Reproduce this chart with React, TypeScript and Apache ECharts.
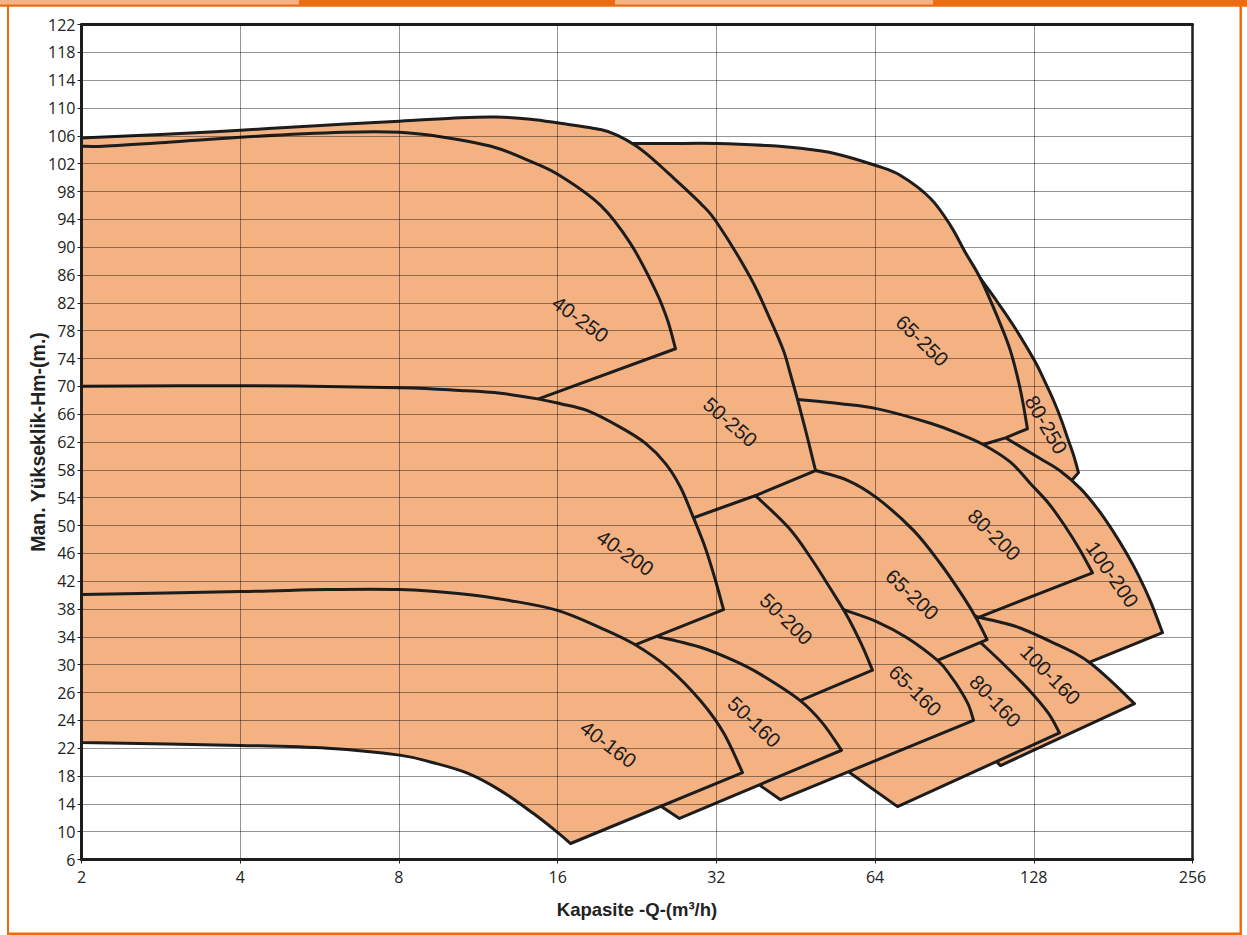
import React, { useEffect, useRef } from 'react';
import * as echarts from 'echarts';

// Axis tick labels (the printed head scale is not uniform at the bottom)
const Y_TICK_LABELS = [6, 10, 14, 18, 22, 24, 26, 30, 34, 38, 42, 46, 50, 54, 58, 62, 66, 70, 74, 78, 82, 86, 90, 94, 98, 102, 106, 110, 114, 118, 122];
const X_MIN = 2;
const X_MAX = 256;

// Pump operating tiles, [Q (m3/h), H (m)], drawn bottom-to-top in this order
const T_80_250 = [[101.4, 85.5], [108.8, 82.3], [117.2, 78.7], [128.4, 73.7], [134.7, 70.5], [139.5, 68.0], [144.5, 65.1], [148.3, 62.6], [152.3, 60.1], [155.6, 57.6], [150.3, 56.3], [131.8, 57.3], [115.6, 60.1], [106.0, 62.6], [99.25, 82.3]];
const T_100_200 = [[113.1, 62.6], [131.8, 59.6], [143.9, 57.8], [157.0, 55.3], [169.1, 52.4], [180.5, 49.3], [191.9, 46.0], [202.3, 42.8], [213.1, 39.1], [224.6, 34.6], [162.6, 30.3], [143.9, 29.2], [110.7, 33.5], [97.1, 34.2], [92.95, 45.0], [99.25, 60.1], [97.1, 62.9], [110.7, 63.7]];
const T_65_250 = [[22.0, 104.9], [25.86, 104.9], [32.16, 104.9], [40.01, 104.6], [46.22, 104.2], [53.38, 103.5], [64.41, 101.7], [71.53, 100.3], [81.54, 97.0], [88.99, 93.1], [95.0, 89.2], [101.4, 85.5], [109.3, 79.9], [115.6, 75.1], [120.8, 69.4], [124.5, 63.9], [113.1, 62.6], [102.3, 61.6], [92.95, 59.3], [44.24, 64.4], [19.3, 96.7], [21.06, 103.9]];
const T_80_200 = [[45.62, 68.1], [55.04, 67.5], [64.41, 66.8], [81.54, 64.7], [92.95, 63.1], [102.8, 61.6], [115.6, 59.1], [126.2, 56.0], [136.5, 53.2], [146.4, 50.0], [156.3, 46.6], [165.4, 43.2], [100.6, 36.8], [85.17, 39.2], [65.54, 47.8], [51.55, 55.0], [45.22, 60.1], [43.85, 65.8]];
const T_100_160 = [[100.6, 36.8], [110.7, 36.1], [121.3, 35.2], [140.8, 33.0], [153.6, 31.6], [164.0, 30.2], [179.0, 27.7], [198.7, 25.2], [110.7, 19.5], [108.3, 20.2], [92.95, 24.0], [95.0, 34.9]];
const T_80_160 = [[101.4, 33.2], [111.7, 30.2], [125.6, 26.3], [136.5, 24.5], [143.2, 23.1], [70.6, 13.6], [57.24, 18.5], [71.53, 25.4], [76.36, 30.6], [87.06, 32.0]];
const T_65_200 = [[49.35, 57.9], [56.75, 56.5], [64.41, 54.0], [75.69, 49.3], [85.17, 44.5], [94.17, 39.7], [99.68, 36.6], [104.4, 33.6], [84.06, 30.6], [71.53, 29.2], [52.69, 32.0], [36.35, 52.2], [35.56, 55.7], [47.24, 59.1]];
const T_65_160 = [[55.76, 37.9], [64.41, 36.2], [73.43, 33.9], [84.06, 30.6], [88.99, 28.4], [92.95, 26.3], [96.26, 25.1], [98.38, 24.0], [42.35, 14.6], [38.81, 16.6], [42.35, 22.5], [46.22, 27.7], [52.69, 37.1]];
const T_50_250 = [[2, 105.7], [2.824, 106.2], [4.005, 106.8], [5.68, 107.5], [8.02, 108.1], [10.47, 108.6], [12.2, 108.7], [14.21, 108.4], [16.2, 107.8], [19.3, 106.9], [20.87, 106.0], [22.48, 104.6], [24.21, 102.7], [25.97, 100.6], [29.86, 96.3], [32.16, 93.4], [37.15, 85.6], [40.54, 79.5], [42.91, 75.1], [44.24, 71.7], [45.62, 68.1], [47.24, 63.7], [49.35, 57.9], [37.97, 54.3], [28.96, 51.1], [24.0, 56.5], [2, 59.3]];
const T_50_200 = [[37.97, 54.3], [43.85, 49.7], [48.28, 45.4], [52.69, 40.9], [56.75, 36.9], [60.32, 32.9], [63.29, 29.2], [46.02, 25.4], [38.81, 24.3], [27.36, 25.4], [24.0, 33.5], [27.36, 39.2], [27.36, 50.7], [28.96, 51.1]];
const T_50_160 = [[24.86, 34.0], [29.86, 32.5], [34.49, 30.6], [38.81, 28.6], [46.22, 25.4], [50.88, 23.8], [55.28, 21.7], [38.81, 16.8], [27.24, 11.9], [25.29, 13.5], [22.98, 20.2], [19.3, 33.5], [22.98, 37.1]];
const T_40_250 = [[2, 104.5], [2.2, 104.5], [2.824, 105.0], [4.005, 105.8], [6.28, 106.5], [8.02, 106.5], [9.72, 105.8], [12.09, 104.4], [14.03, 102.5], [16.06, 100.4], [19.3, 96.0], [22.0, 90.5], [24.53, 83.8], [25.86, 79.5], [26.77, 75.4], [14.72, 68.2], [13.6, 67.2], [2, 68.0]];
const T_40_200 = [[2, 70.0], [4.005, 70.1], [8.02, 69.8], [10.47, 69.4], [12.47, 69.0], [14.65, 68.2], [16.2, 67.5], [18.23, 66.5], [21.06, 64.1], [23.49, 61.8], [25.63, 58.9], [27.36, 55.5], [28.96, 51.1], [30.52, 46.7], [31.88, 42.1], [33.02, 37.9], [22.38, 32.8], [19.3, 30.6], [2, 33.5]];
const T_40_160 = [[2, 40.1], [4.005, 40.5], [5.86, 40.8], [8.02, 40.8], [10.47, 40.2], [13.02, 39.2], [15.99, 37.8], [19.3, 35.3], [22.29, 33.0], [25.86, 29.6], [29.86, 25.4], [33.02, 23.1], [35.87, 18.5], [16.93, 8.3], [15.99, 9.9], [14.4, 12.6], [12.47, 15.9], [10.79, 18.4], [9.3, 19.9], [8.02, 21.0], [5.86, 22.0], [4.005, 22.2], [2, 22.4]];

const TILES = [T_80_250, T_100_200, T_65_250, T_80_200, T_100_160, T_80_160, T_65_200, T_65_160, T_50_250, T_50_200, T_50_160, T_40_250, T_40_200, T_40_160];
// index ranges of each tile outline that are curved (head-capacity curves); the rest are straight edges
const TILE_CURVES = [[[0, 9]], [[0, 9]], [[0, 15]], [[0, 11]], [[0, 7]], [[0, 4]], [[0, 7]], [[0, 7]], [[0, 22]], [[0, 6]], [[0, 6]], [[0, 14]], [[0, 15]], [[0, 12], [13, 22]]];

// Tile labels
const LABEL_NAMES = ['40-250', '50-250', '65-250', '80-250', '40-200', '50-200', '65-200', '80-200', '100-200', '40-160', '50-160', '65-160', '80-160', '100-160'];
const LABEL_Q = [17.68, 34.04, 78.73, 135.3, 21.52, 43.47, 75.36, 107.8, 180.5, 19.98, 37.8, 76.36, 108.3, 137.7];
const LABEL_H = [79.7, 64.9, 76.6, 64.5, 46.1, 36.6, 40.1, 48.7, 43.0, 22.3, 23.9, 26.3, 25.4, 28.6];
const LABEL_ANGLE = [36, 41, 44, 60, 35, 44, 43, 44, 55, 37, 43, 44, 46, 45];

const FILL = '#F4B283';
const INK = '#1d1d1d';
const ORANGE = '#EE6C10';
const LIGHT = '#F5B285';

function toAxisY(h: number): number {
  const t = Y_TICK_LABELS;
  if (h <= t[0]) return (h - t[0]) / (t[1] - t[0]);
  for (let i = 0; i < t.length - 1; i++) {
    if (h <= t[i + 1]) return i + (h - t[i]) / (t[i + 1] - t[i]);
  }
  const n = t.length - 1;
  return n + (h - t[n]) / (t[n] - t[n - 1]);
}

// Outline shape: smooth (Catmull-Rom as Bezier) through curved runs, straight elsewhere
const TileShape = (echarts.graphic as any).extendShape({
  type: 'pumpTile',
  shape: { points: [] as number[][], runs: [] as number[][] },
  buildPath(ctx: any, shape: any) {
    const pts: number[][] = shape.points;
    const runs: number[][] = shape.runs || [];
    const n = pts.length;
    if (!n) return;
    ctx.moveTo(pts[0][0], pts[0][1]);
    let i = 0;
    while (i < n - 1) {
      const run = runs.find((r) => r[0] === i);
      if (run) {
        const a = run[0];
        const b = run[1];
        for (let k = a; k < b; k++) {
          const p0 = pts[Math.max(k - 1, a)];
          const p1 = pts[k];
          const p2 = pts[k + 1];
          const p3 = pts[Math.min(k + 2, b)];
          ctx.bezierCurveTo(
            p1[0] + (p2[0] - p0[0]) / 6, p1[1] + (p2[1] - p0[1]) / 6,
            p2[0] - (p3[0] - p1[0]) / 6, p2[1] - (p3[1] - p1[1]) / 6,
            p2[0], p2[1]
          );
        }
        i = b;
      } else {
        ctx.lineTo(pts[i + 1][0], pts[i + 1][1]);
        i++;
      }
    }
    ctx.closePath();
  },
});
echarts.graphic.registerShape('pumpTile', TileShape);

export default function App() {
  const ref = useRef<HTMLDivElement>(null);
  useEffect(() => {
    if (!ref.current) return;
    const chart = echarts.init(ref.current, null, { renderer: 'svg' });
    const tickFont = { fontFamily: '"Open Sans", "Noto Sans", sans-serif', fontSize: 16, color: '#222' };
    const frameLine = { color: INK, width: 3 };
    const gridLine = { color: 'rgba(0,0,0,0.42)', width: 1 };
    const option: any = {
      animation: false,
      backgroundColor: '#ffffff',
      grid: { left: 81.5, right: 54.5, top: 24.5, bottom: 75.5, containLabel: false },
      xAxis: [
        {
          type: 'log', logBase: 2, min: X_MIN, max: X_MAX, position: 'bottom', z: 5,
          axisLine: { show: true, onZero: false, lineStyle: frameLine },
          axisTick: { show: true, length: 4, lineStyle: { color: INK, width: 1 } },
          axisLabel: { ...tickFont, margin: 9, formatter: (v: number) => String(Math.round(v)) },
          splitLine: { show: true, lineStyle: gridLine },
          name: 'Kapasite -Q-(m³/h)', nameLocation: 'middle', nameGap: 40,
          nameTextStyle: { fontFamily: '"Liberation Sans", Arial, sans-serif', fontWeight: 'bold', fontSize: 18.5, color: '#222' },
        },
        {
          type: 'log', logBase: 2, min: X_MIN, max: X_MAX, position: 'top', z: 5,
          axisLine: { show: true, onZero: false, lineStyle: frameLine },
          axisTick: { show: false }, axisLabel: { show: false }, splitLine: { show: false },
        },
      ],
      yAxis: [
        {
          type: 'value', min: 0, max: Y_TICK_LABELS.length - 1, interval: 1, position: 'left', z: 5,
          axisLine: { show: true, onZero: false, lineStyle: frameLine },
          axisTick: { show: true, length: 4, lineStyle: { color: INK, width: 1 } },
          axisLabel: { ...tickFont, margin: 6, formatter: (v: number) => String(Y_TICK_LABELS[Math.round(v)]) },
          splitLine: { show: true, lineStyle: gridLine },
          name: 'Man. Yükseklik-Hm-(m.)', nameLocation: 'middle', nameGap: 34, nameRotate: 90, nameMoveOverlap: false,
          nameTextStyle: { fontFamily: '"Liberation Sans", Arial, sans-serif', fontWeight: 'bold', fontSize: 19.5, color: '#222' },
        },
        {
          type: 'value', min: 0, max: Y_TICK_LABELS.length - 1, interval: 1, position: 'right', z: 5,
          axisLine: { show: true, onZero: false, lineStyle: { color: INK, width: 2.5 } },
          axisTick: { show: false }, axisLabel: { show: false }, splitLine: { show: false },
        },
      ],
      graphic: [
        { type: 'rect', silent: true, shape: { x: 0, y: 0, width: 1247, height: 6.7 }, style: { fill: ORANGE } },
        { type: 'rect', silent: true, shape: { x: 0, y: 0, width: 299, height: 4.5 }, style: { fill: LIGHT } },
        { type: 'rect', silent: true, shape: { x: 615, y: 0, width: 318, height: 4.5 }, style: { fill: LIGHT } },
        { type: 'rect', silent: true, shape: { x: 7, y: 4.5, width: 2, height: 930.5 }, style: { fill: ORANGE } },
        { type: 'rect', silent: true, shape: { x: 1239.5, y: 4.5, width: 2.5, height: 930.5 }, style: { fill: ORANGE } },
        { type: 'rect', silent: true, shape: { x: 7, y: 932.5, width: 1235, height: 2.5 }, style: { fill: ORANGE } },
      ],
      series: [
        {
          type: 'custom', coordinateSystem: 'cartesian2d', xAxisIndex: 0, yAxisIndex: 0, z: 2, silent: true,
          data: TILES.map((t, i) => [t[0][0], toAxisY(t[0][1]), i]),
          encode: { x: 0, y: 1 },
          renderItem: (params: any, api: any) => {
            const idx = params.dataIndex;
            const pts = TILES[idx].map(([q, h]) => api.coord([q, toAxisY(h)]));
            return {
              type: 'pumpTile',
              shape: { points: pts, runs: TILE_CURVES[idx] },
              style: { fill: FILL, stroke: INK, lineWidth: 3, lineJoin: 'round' },
            };
          },
        },
        {
          type: 'custom', coordinateSystem: 'cartesian2d', xAxisIndex: 0, yAxisIndex: 0, z: 6, silent: true,
          data: LABEL_NAMES.map((n, i) => [LABEL_Q[i], toAxisY(LABEL_H[i]), i]),
          encode: { x: 0, y: 1 },
          renderItem: (params: any, api: any) => {
            const i = params.dataIndex;
            const p = api.coord([LABEL_Q[i], toAxisY(LABEL_H[i])]);
            return {
              type: 'text',
              x: p[0], y: p[1],
              rotation: -LABEL_ANGLE[i] * Math.PI / 180,
              style: {
                text: LABEL_NAMES[i], fill: INK,
                font: '20.5px "Liberation Sans", Arial, sans-serif',
                textAlign: 'center', textVerticalAlign: 'middle', align: 'center', verticalAlign: 'middle',
              },
            };
          },
        },
      ],
    };
    chart.setOption(option);
    return () => chart.dispose();
  }, []);
  return (
    <div style={{ position: 'absolute', left: 0, top: 0, width: 1247, height: 935, background: '#fff' }}>
      <div ref={ref} style={{ width: 1247, height: 935 }} />
    </div>
  );
}
